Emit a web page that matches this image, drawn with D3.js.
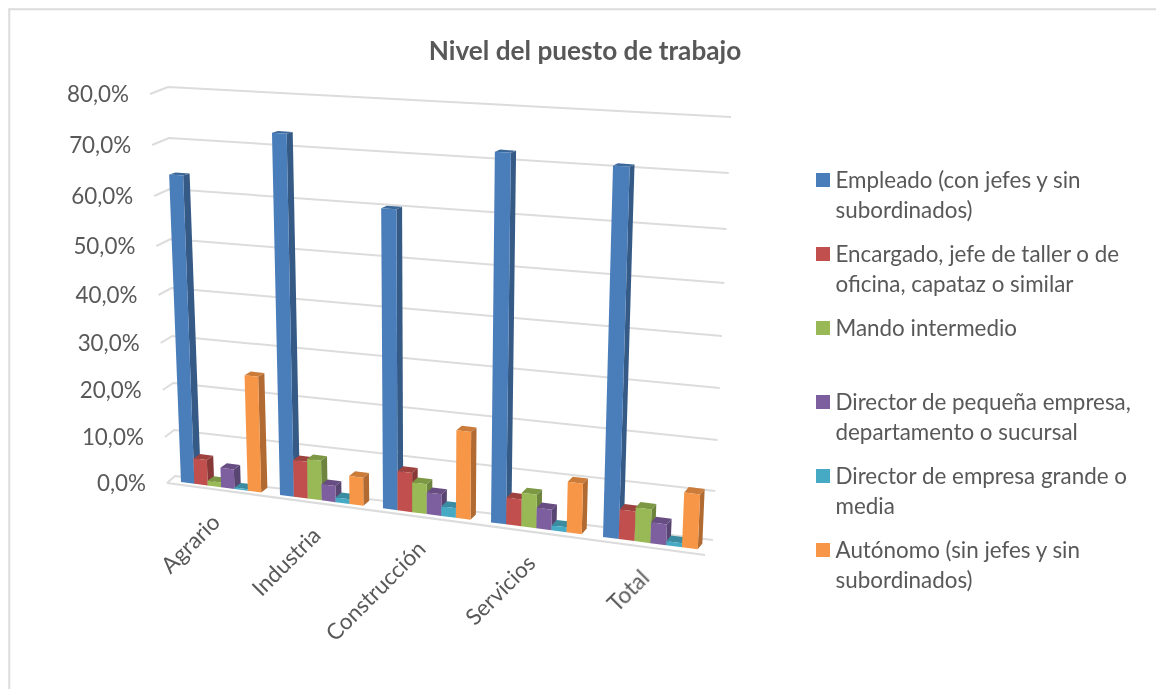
<!DOCTYPE html>
<html><head><meta charset="utf-8">
<script src="https://cdn.jsdelivr.net/npm/d3@7"></script>
<style>html,body{margin:0;padding:0;background:#fff}svg{display:block}text{font-family:Lato,"Open Sans",sans-serif;fill:#595959}</style>
</head><body><svg id="c" width="1156" height="689"></svg>
<script>
const categories = ["Agrario","Industria","Construcción","Servicios","Total"];
const seriesNames = [
  ["Empleado (con jefes y sin","subordinados)"],
  ["Encargado, jefe de taller o de","oficina, capataz o similar"],
  ["Mando intermedio"],
  ["Director de pequeña empresa,","departamento o sucursal"],
  ["Director de empresa grande o","media"],
  ["Autónomo (sin jefes y sin","subordinados)"]
];
const empleado  = [64.0,73.5,60.6,72.8,71.8];
const encargado = [5.5,7.8,8.2,5.5,6.0];
const mando     = [1.0,8.4,6.2,6.9,6.8];
const director  = [4.2,3.4,4.5,4.2,4.2];
const directorG = [0.3,1.0,2.0,1.0,0.8];
const autonomo  = [24.5,5.9,18.0,10.3,11.0];
const seriesValues = [empleado,encargado,mando,director,directorG,autonomo];
const colors = ["#4A7EBB","#C0504D","#98B954","#7D5FA0","#46AAC4","#F79646"];
const tickValues = [0,10,20,30,40,50,60,70,80];
const tickLabels = ["0,0%","10,0%","20,0%","30,0%","40,0%","50,0%","60,0%","70,0%","80,0%"];

const svg = d3.select("#c");
const defs = svg.append("defs");
defs.append("filter").attr("id","soft").append("feGaussianBlur").attr("stdDeviation",0.45);
defs.append("filter").attr("id","softText").append("feGaussianBlur").attr("stdDeviation",0.3);

// frame: runs off the right and bottom of the picture
svg.append("path").attr("d",d3.line()([[9.25,689],[9.25,9.25],[1156,9.25]]))
  .attr("fill","none").attr("stroke","#dcdcdc").attr("stroke-width",2);

// perspective scales
const backLeftY  = d3.scaleLinear().domain(tickValues).range([476,430,383,336,288,239,189,138,87]);
const backRightY = d3.scaleLinear().domain(tickValues).range([540,491,440,388,336,283,229,173,117]);
const backLeftX  = d3.scaleLinear().domain([0,80]).range([175,168]);
const backRightX = d3.scaleLinear().domain([0,80]).range([713,731]);
const wallX      = d3.scaleLinear().domain([0,80]).range([167,150]);
const slotX      = d3.scaleLinear().domain([0,1,2,3,4,5]).range([181,280,383,491,603,720]);
const baseY      = d3.scaleLinear().domain([181,603]).range([482,537]);
const heightAt   = d3.scaleLinear().domain([0,5]).range([389,423]);
const spread     = d3.scaleLinear().domain([0,80]).range([1,1.0616]);
const depthX     = d3.scaleLinear().domain([0,5]).range([6.5,4.5]);
const depthBase  = d3.scaleLinear().domain([0,5]).range([4.5,6]);
const depthFade  = d3.scaleLinear().domain([0,70]).range([1,0.4]);
const slotBar = 0.135, vanishX = 422;

const unit = v => (backLeftY(0)-backLeftY(v))/(backLeftY(0)-backLeftY(80));
const pt = (u,v) => {
  const bx = slotX(u);
  return [vanishX+(bx-vanishX)*spread(v), baseY(bx)-unit(v)*heightAt(u)];
};
const back = (p,u,v) => [p[0]+depthX(u), p[1]-depthBase(u)*depthFade(v)];
const poly = d3.line().curve(d3.curveLinearClosed);

const plot = svg.append("g").attr("filter","url(#soft)");
// grid
const gridC="#dcdcdc";
tickValues.forEach(v=>{
  const l=[backLeftX(v),backLeftY(v)], r=[backRightX(v),backRightY(v)], w=[wallX(v),backLeftY(v)+7];
  plot.append("path").attr("d",d3.line()([w,l,r])).attr("fill","none").attr("stroke",gridC).attr("stroke-width",2);
});
plot.append("path").attr("d",d3.line()([[wallX(0),backLeftY(0)+7],[705,555]]))
  .attr("fill","none").attr("stroke",gridC).attr("stroke-width",2.2);

// bars
categories.forEach((c,i)=>{
  seriesValues.forEach((vals,j)=>{
    const v=vals[i], u0=i+j*slotBar, u1=u0+slotBar, col=d3.color(colors[j]);
    const a=pt(u0,0), b=pt(u1,0), t1=pt(u1,v), t0=pt(u0,v);
    const ba=back(b,u1,0), bt1=back(t1,u1,v), bt0=back(t0,u0,v);
    const g=plot.append("g");
    g.append("path").attr("d",poly([b,ba,bt1,t1])).attr("fill",col.darker(0.95));
    g.append("path").attr("d",poly([t0,t1,bt1,bt0])).attr("fill",col.darker(0.55));
    g.append("path").attr("d",poly([a,b,t1,t0])).attr("fill",col);
  });
});

const labels = svg.append("g").attr("filter","url(#softText)");
// y labels
tickValues.forEach((v,i)=>{
  labels.append("text").attr("x",wallX(v)-21).attr("y",backLeftY(v)+7).attr("dy","0.35em")
    .attr("text-anchor","end").attr("font-size",22.4).text(tickLabels[i]);
});
// category labels
categories.forEach((c,i)=>{
  const x=slotX(i+0.4), y=baseY(x)+36.5;
  labels.append("text").attr("text-anchor","end").attr("font-size",22.4)
    .attr("transform",`translate(${x+1},${y}) rotate(-45)`).text(c);
});
// title
labels.append("text").attr("x",585).attr("y",60).attr("text-anchor","middle")
  .attr("font-size",26.2).attr("font-weight",700).text("Nivel del puesto de trabajo");
// legend
const legendY=d3.scaleLinear().domain([0,5]).range([180,550]);
seriesNames.forEach((lines,j)=>{
  labels.append("rect").attr("x",816).attr("y",legendY(j)-7).attr("width",14).attr("height",14).attr("fill",colors[j]);
  lines.forEach((t,k)=>{
    labels.append("text").attr("x",835.5).attr("y",legendY(j)+k*30).attr("dy","0.35em").attr("font-size",22.4).text(t);
  });
});
</script></body></html>
